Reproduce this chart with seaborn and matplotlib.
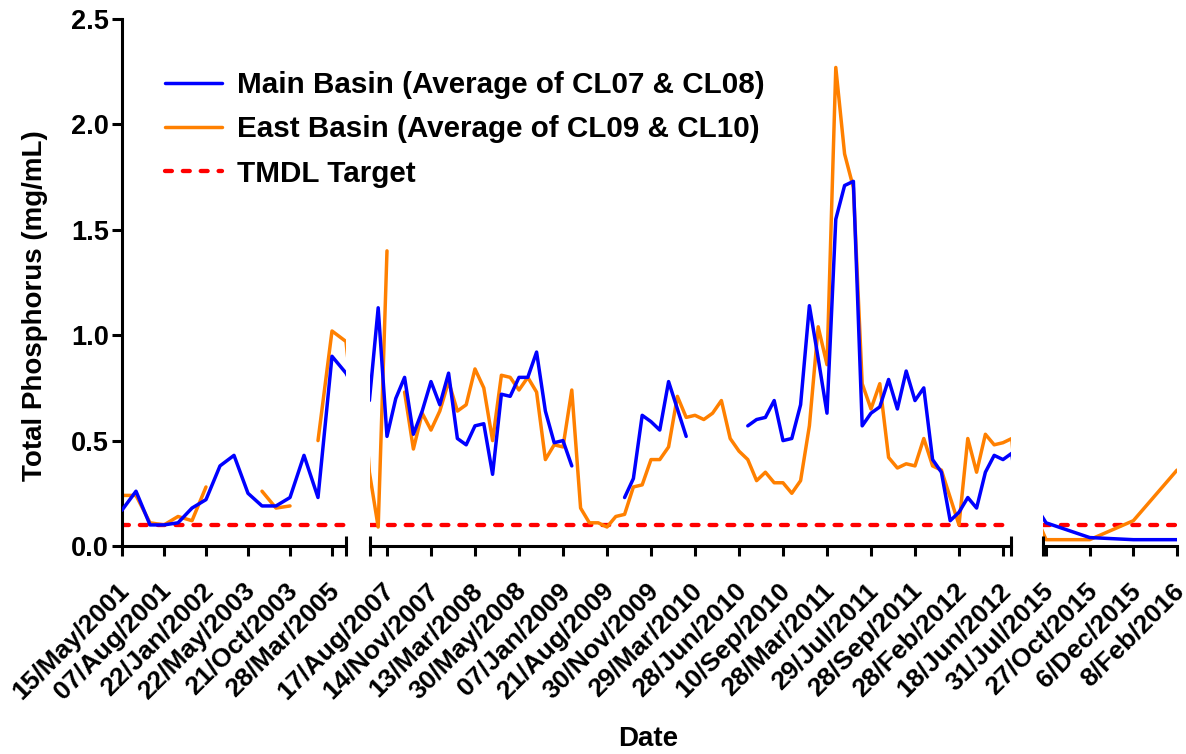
import numpy as np
import pandas as pd
import matplotlib
matplotlib.use("Agg")
import matplotlib.pyplot as plt
import matplotlib.transforms as mtransforms
from matplotlib.lines import Line2D
import seaborn as sns

nan = np.nan

# Sampling dates labelled on each part of the broken date axis
dates_2001_2005 = ["15/May/2001", "07/Aug/2001", "22/Jan/2002", "22/May/2003",
                   "21/Oct/2003", "28/Mar/2005"]
dates_2007_2012 = ["17/Aug/2007", "14/Nov/2007", "13/Mar/2008", "30/May/2008",
                   "07/Jan/2009", "21/Aug/2009", "30/Nov/2009", "29/Mar/2010",
                   "28/Jun/2010", "10/Sep/2010", "28/Mar/2011", "29/Jul/2011",
                   "28/Sep/2011", "28/Feb/2012", "18/Jun/2012"]
dates_2015_2016 = ["31/Jul/2015", "27/Oct/2015", "6/Dec/2015", "8/Feb/2016"]

# Total phosphorus (mg/mL), one value per sampling row
main_2001_2005 = [0.17, 0.26, 0.10, 0.10, 0.11, 0.18, 0.22, 0.38, 0.43, 0.25,
                  0.19, 0.19, 0.23, 0.43, 0.23, 0.90, 0.82]
east_2001_2005 = [0.24, 0.24, 0.11, 0.10, 0.14, 0.12, 0.28, nan, nan, nan,
                  0.26, 0.18, 0.19, nan, 0.50, 1.02, 0.97]

main_2007_2012 = [0.69, 1.13, 0.52, 0.70, 0.80, 0.53, 0.64, 0.78, 0.67, 0.82,
                  0.51, 0.48, 0.57, 0.58, 0.34, 0.72, 0.71, 0.80, 0.80, 0.92,
                  0.64, 0.49, 0.50, 0.38, nan, nan, nan, nan, nan, 0.23,
                  0.32, 0.62, 0.59, 0.55, 0.78, 0.65, 0.52, nan, nan, nan,
                  nan, nan, nan, 0.57, 0.60, 0.61, 0.69, 0.50, 0.51, 0.67,
                  1.14, 0.89, 0.63, 1.55, 1.71, 1.73, 0.57, 0.63, 0.66, 0.79,
                  0.65, 0.83, 0.69, 0.75, 0.41, 0.35, 0.12, 0.16, 0.23, 0.18,
                  0.35, 0.43, 0.41, 0.44]
east_2007_2012 = [0.35, 0.09, 1.40, nan, 0.73, 0.46, 0.63, 0.55, 0.64, 0.78,
                  0.64, 0.67, 0.84, 0.75, 0.50, 0.81, 0.80, 0.74, 0.80, 0.73,
                  0.41, 0.48, 0.47, 0.74, 0.18, 0.11, 0.11, 0.09, 0.14, 0.15,
                  0.28, 0.29, 0.41, 0.41, 0.47, 0.71, 0.61, 0.62, 0.60, 0.63,
                  0.69, 0.51, 0.45, 0.41, 0.31, 0.35, 0.30, 0.30, 0.25, 0.31,
                  0.57, 1.04, 0.86, 2.27, 1.86, 1.70, 0.77, 0.65, 0.77, 0.42,
                  0.37, 0.39, 0.38, 0.51, 0.38, 0.36, 0.23, 0.10, 0.51, 0.35,
                  0.53, 0.48, 0.49, 0.51]

main_2015_2016 = [0.11, 0.04, 0.03, 0.03]
east_2015_2016 = [0.03, 0.03, 0.12, 0.36]

TMDL_TARGET = 0.1

MAIN_LABEL = "Main Basin (Average of CL07 & CL08)"
EAST_LABEL = "East Basin (Average of CL09 & CL10)"
TMDL_LABEL = "TMDL Target"

BLUE = "#0000FF"
ORANGE = "#FF8000"
RED = "#FF0000"

# ---------------------------------------------------------------- data frame
main_all = main_2001_2005 + main_2007_2012 + main_2015_2016
east_all = east_2001_2005 + east_2007_2012 + east_2015_2016
n1, n2 = len(main_2001_2005), len(main_2007_2012)


def long_form(values, name):
    v = pd.Series(values, dtype=float)
    d = pd.DataFrame({"row": np.arange(len(v)), "value": v, "series": name})
    # a new run starts after every missing sample, so gaps stay open
    d["run"] = v.isna().cumsum()
    return d.dropna(subset=["value"])


df = pd.concat([long_form(east_all, "east"), long_form(main_all, "main")],
               ignore_index=True)

# ---------------------------------------------------------------- styling
sns.set_style("ticks")
plt.rcParams["font.family"] = ["Liberation Sans", "DejaVu Sans"]
plt.rcParams["font.weight"] = "bold"
for key in ("text.color", "axes.labelcolor", "xtick.color", "ytick.color",
            "axes.edgecolor"):
    plt.rcParams[key] = "black"

W, H = 1186, 754
fig = plt.figure(figsize=(W / 100, H / 100), dpi=100)
TOP, BOTTOM = 19, 546


def axes_px(left, right):
    return fig.add_axes([left / W, 1 - BOTTOM / H, (right - left) / W,
                         (BOTTOM - TOP) / H])


ax1 = axes_px(122, 346)
ax2 = axes_px(370, 1011)
ax3 = axes_px(1043, 1177)

# (axes, tick labels, first labelled row, rows between labels, x-range)
parts = [
    (ax1, dates_2001_2005, 0, 3, (0, n1 - 1)),
    (ax2, dates_2007_2012, n1 + 2, 5, (n1 + 0.07, n1 + n2 - 1.09)),
    (ax3, dates_2015_2016, n1 + n2, 1, (n1 + n2 - 0.07, n1 + n2 + 3)),
]

SPINE_LW = 2.2
TICK_FS = 19
LABEL_ROT = 45
# date labels sit a little to the left of their tick
label_shift = mtransforms.ScaledTranslation(-5 / 100, 0, fig.dpi_scale_trans)

for ax, labels, first, step, xr in parts:
    ax.axhline(TMDL_TARGET, color=RED, lw=3.1, linestyle=(0, (1.6, 2.55)),
               dash_capstyle="round", zorder=1)
    sns.lineplot(data=df[df.series == "east"], x="row", y="value",
                 units="run", estimator=None, color=ORANGE, lw=2.5,
                 ax=ax, legend=False, zorder=2)
    sns.lineplot(data=df[df.series == "main"], x="row", y="value",
                 units="run", estimator=None, color=BLUE, lw=2.5,
                 ax=ax, legend=False, zorder=3)
    ax.set(xlabel="", ylabel="")
    ax.set_xlim(*xr)
    ax.set_ylim(0, 2.5)
    ax.patch.set_alpha(0)

    ticks = [first + step * i for i in range(len(labels))]
    ax.set_xticks(ticks)
    ax.set_xticklabels(labels, rotation=LABEL_ROT, ha="right", va="top",
                       rotation_mode="anchor", fontsize=TICK_FS,
                       fontweight="bold")
    ax.tick_params(axis="x", length=7.5, width=SPINE_LW, pad=16,
                   color="black", direction="out")
    for lab in ax.get_xticklabels():
        lab.set_transform(lab.get_transform() + label_shift)
    for side in ("top", "right"):
        ax.spines[side].set_visible(False)
    ax.spines["bottom"].set_linewidth(SPINE_LW)
    ax.spines["left"].set_linewidth(SPINE_LW)

# y axis only on the first part
ax1.set_yticks([0, 0.5, 1.0, 1.5, 2.0, 2.5])
ax1.set_yticklabels(["0.0", "0.5", "1.0", "1.5", "2.0", "2.5"],
                    fontsize=19.5, fontweight="bold")
ax1.tick_params(axis="y", length=7.5, width=SPINE_LW, pad=2, color="black")
for ax in (ax2, ax3):
    ax.spines["left"].set_visible(False)
    ax.tick_params(axis="y", left=False, labelleft=False)

# break marks at the inner ends of the axis parts
mark = 10 / (BOTTOM - TOP)
for ax, where in ((ax1, "right"), (ax2, "left"), (ax2, "right"), (ax3, "left")):
    x = 1.0 if where == "right" else 0.0
    ax.plot([x, x], [-mark, mark], transform=ax.transAxes, color="black",
            lw=SPINE_LW, clip_on=False, solid_capstyle="butt", zorder=5)

# axis titles
fig.text(35 / W, 1 - 306 / H, "Total Phosphorus (mg/mL)", rotation=90,
         ha="center", va="center", fontsize=20, fontweight="bold")
fig.text(648 / W, 1 - 739 / H, "Date", ha="center", va="center",
         fontsize=20, fontweight="bold")

# legend
handles = [
    Line2D([], [], color=BLUE, lw=2.5),
    Line2D([], [], color=ORANGE, lw=2.5),
    Line2D([], [], color=RED, lw=3.1, linestyle=(0, (1.6, 2.55)),
           dash_capstyle="round"),
]
fig.legend(handles, [MAIN_LABEL, EAST_LABEL, TMDL_LABEL], loc="upper left",
           bbox_to_anchor=(165 / W, 1 - 71 / H), frameon=False,
           borderpad=0, borderaxespad=0, handlelength=1.92,
           handletextpad=0.52, labelspacing=0.55,
           prop={"size": 21.3, "weight": "bold"})

fig.savefig("out.png", dpi=100)
